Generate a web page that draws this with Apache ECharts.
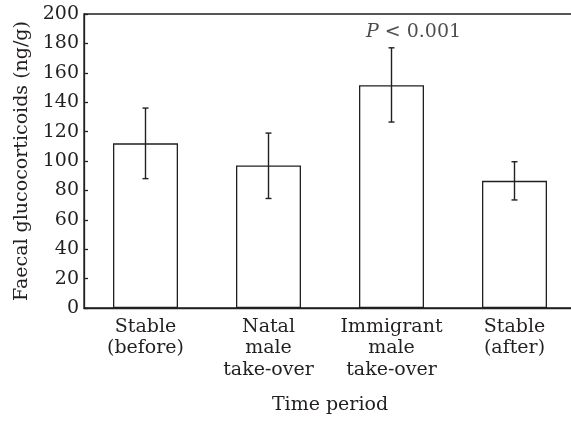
<!DOCTYPE html>
<html>
<head>
<meta charset="utf-8">
<script src="https://cdn.jsdelivr.net/npm/echarts@6/dist/echarts.min.js"></script>
<style>
  html, body { margin: 0; padding: 0; background: #fff; }
  #chart { width: 571px; height: 423px; }
</style>
</head>
<body>
<div id="chart"></div>
<script>
// 数据
const categories = ['Stable\n(before)', 'Natal\nmale\ntake-over', 'Immigrant\nmale\ntake-over', 'Stable\n(after)']
const means = [112, 97, 151.5, 86.5]
const errLow = [88, 74.5, 126.5, 73.5]
const errHigh = [136, 119, 177, 99.5]
const yTicks = { min: 0, max: 200, step: 20 }
const annotation = { index: 2, value: 188, text: '{i|P} < 0.001' }

const ink = '#231f20'
const font = 'DejaVu Serif'
const fs = 19

const chart = echarts.init(document.getElementById('chart'))

const option = {
  animation: false,
  backgroundColor: '#fff',
  grid: {
    left: 84,
    top: 14,
    width: 492, // 右边超出画面，和原图一样
    bottom: 115,
    outerBoundsMode: 'none',
    show: true,
    borderColor: ink,
    borderWidth: 1.3
  },
  xAxis: {
    type: 'category',
    data: categories,
    axisLine: { lineStyle: { color: ink, width: 1.3 } },
    axisTick: { show: false },
    axisLabel: {
      color: ink,
      fontFamily: font,
      fontSize: fs,
      lineHeight: 21.5,
      margin: 8,
      interval: 0
    },
    name: 'Time period',
    nameLocation: 'middle',
    nameGap: 88,
    nameTextStyle: { color: ink, fontFamily: font, fontSize: fs }
  },
  yAxis: {
    type: 'value',
    min: yTicks.min,
    max: yTicks.max,
    interval: yTicks.step,
    axisLine: { show: true, lineStyle: { color: ink, width: 1.3 } },
    axisTick: { show: true, inside: true, length: 4, lineStyle: { color: ink, width: 1.3 } },
    splitLine: { show: false },
    axisLabel: { color: ink, fontFamily: font, fontSize: fs, margin: 5 },
    name: 'Faecal glucocorticoids (ng/g)',
    nameLocation: 'middle',
    nameRotate: 90,
    nameGap: 52,
    nameTextStyle: { color: ink, fontFamily: font, fontSize: fs }
  },
  series: [
    {
      type: 'bar',
      data: means,
      barWidth: 65,
      itemStyle: { color: '#fff', borderColor: ink, borderWidth: 1.3 },
      z: 2
    },
    {
      // 误差线
      type: 'custom',
      data: errLow.map((lo, i) => [i, lo, errHigh[i]]),
      renderItem(params, api) {
        const lo = api.coord([api.value(0), api.value(1)])
        const hi = api.coord([api.value(0), api.value(2)])
        const cap = 3
        const style = { stroke: ink, lineWidth: 1.4 }
        return {
          type: 'group',
          children: [
            { type: 'line', shape: { x1: hi[0], y1: hi[1], x2: lo[0], y2: lo[1] }, style },
            { type: 'line', shape: { x1: hi[0] - cap, y1: hi[1], x2: hi[0] + cap, y2: hi[1] }, style },
            { type: 'line', shape: { x1: lo[0] - cap, y1: lo[1], x2: lo[0] + cap, y2: lo[1] }, style }
          ]
        }
      },
      z: 3
    },
    {
      type: 'scatter',
      data: [[annotation.index, annotation.value]],
      symbolSize: 0,
      silent: true,
      label: {
        show: true,
        position: 'inside',
        offset: [22, 0],
        formatter: annotation.text,
        color: ink,
        fontFamily: font,
        fontSize: fs,
        rich: {
          i: { fontStyle: 'italic', color: ink, fontFamily: font, fontSize: fs }
        }
      }
    }
  ]
}

chart.setOption(option)
</script>
</body>
</html>
